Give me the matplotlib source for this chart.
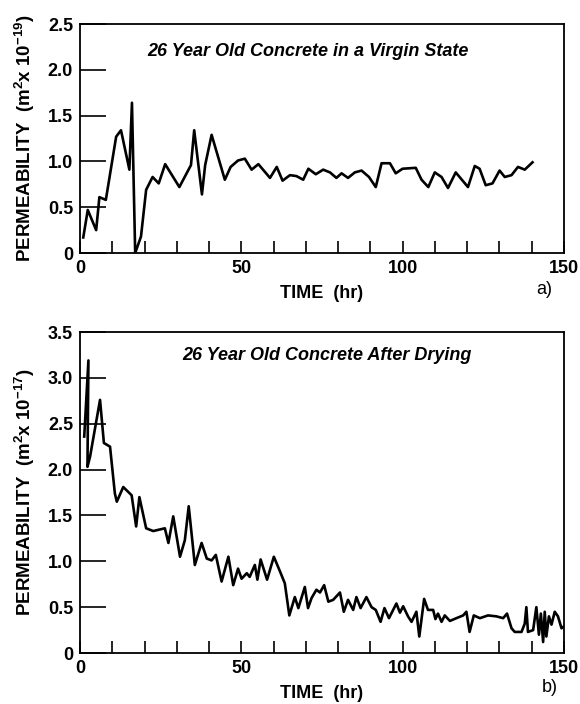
import matplotlib.pyplot as plt
from matplotlib.ticker import FixedLocator, FixedFormatter, MultipleLocator

plt.rcParams['font.family'] = ['Liberation Sans', 'DejaVu Sans']
plt.rcParams['mathtext.fontset'] = 'custom'
plt.rcParams['mathtext.rm'] = 'Liberation Sans:bold'
plt.rcParams['mathtext.default'] = 'rm'

# ── (a) virgin state, permeability in 1e-19 m^2 ────────────────────
time_a = [1.0, 2.4, 5.0, 6.0, 8.0, 11.2, 12.7, 15.3, 16.1, 17.1, 18.9, 20.5,
          22.5, 24.4, 26.4, 30.8, 34.4, 35.4, 37.8, 38.8, 40.8, 44.9, 46.7,
          49.0, 51.1, 53.2, 55.3, 58.9, 61.0, 62.8, 65.1, 67.1, 69.2, 70.8,
          73.1, 75.4, 77.5, 79.5, 81.1, 83.1, 85.2, 87.3, 89.6, 91.7, 93.5,
          96.1, 97.9, 100.0, 104.1, 105.9, 108.0, 110.0, 112.1, 114.1, 116.5,
          120.3, 122.4, 123.9, 125.8, 127.9, 130.1, 131.7, 133.8, 135.8,
          137.9, 140.3]
perm_a = [0.17, 0.47, 0.25, 0.61, 0.58, 1.27, 1.34, 0.91, 1.64, 0.00, 0.18,
          0.69, 0.83, 0.76, 0.97, 0.72, 0.96, 1.34, 0.64, 0.96, 1.29, 0.80,
          0.94, 1.01, 1.03, 0.91, 0.97, 0.82, 0.94, 0.79, 0.85, 0.84, 0.80,
          0.92, 0.86, 0.91, 0.88, 0.82, 0.87, 0.82, 0.88, 0.90, 0.83, 0.72,
          0.98, 0.98, 0.87, 0.92, 0.93, 0.80, 0.72, 0.88, 0.83, 0.71, 0.88,
          0.72, 0.95, 0.92, 0.74, 0.76, 0.90, 0.83, 0.85, 0.94, 0.91, 0.99]

# ── (b) after drying, permeability in 1e-17 m^2 ────────────────────
time_b = [1.3, 2.6, 2.3, 3.1, 6.2, 7.4, 9.3, 10.8, 11.4, 13.4, 16.0, 17.4,
          18.4, 20.5, 22.7, 26.3, 27.4, 28.9, 31.0, 32.5, 33.7, 35.6, 37.7,
          39.3, 40.8, 42.1, 43.9, 46.0, 47.5, 49.0, 50.1, 51.7, 52.6, 54.2,
          55.0, 56.0, 58.0, 60.1, 62.0, 63.5, 64.9, 66.6, 67.7, 69.7, 70.7,
          71.8, 73.3, 74.4, 75.7, 77.0, 78.5, 80.6, 81.8, 83.1, 84.7, 85.7,
          87.0, 88.8, 90.4, 91.7, 93.2, 94.4, 95.8, 98.1, 99.2, 100.2, 101.7,
          102.8, 104.3, 105.2, 106.7, 107.9, 109.5, 110.2, 111.0, 112.1,
          113.1, 114.7, 116.7, 118.8, 119.8, 120.8, 122.1, 124.0, 126.5,
          129.1, 131.2, 132.4, 133.8, 134.8, 136.9, 137.9, 138.4, 138.9,
          140.5, 141.5, 142.3, 142.9, 143.6, 144.1, 144.6, 145.4, 146.2,
          147.2, 148.2, 149.3, 150.0]
perm_b = [2.36, 3.19, 2.03, 2.14, 2.76, 2.29, 2.25, 1.74, 1.65, 1.81, 1.72,
          1.38, 1.70, 1.36, 1.33, 1.36, 1.20, 1.49, 1.05, 1.23, 1.60, 0.96,
          1.20, 1.03, 1.01, 1.07, 0.78, 1.05, 0.74, 0.92, 0.81, 0.87, 0.83,
          0.96, 0.80, 1.02, 0.80, 1.05, 0.89, 0.76, 0.41, 0.61, 0.49, 0.72,
          0.49, 0.60, 0.69, 0.66, 0.74, 0.56, 0.58, 0.66, 0.45, 0.58, 0.47,
          0.61, 0.49, 0.61, 0.50, 0.47, 0.34, 0.49, 0.38, 0.54, 0.44, 0.51,
          0.40, 0.34, 0.45, 0.18, 0.59, 0.47, 0.47, 0.37, 0.43, 0.34, 0.41,
          0.35, 0.38, 0.41, 0.45, 0.23, 0.41, 0.38, 0.41, 0.40, 0.38, 0.43,
          0.27, 0.23, 0.23, 0.32, 0.50, 0.23, 0.25, 0.50, 0.20, 0.43, 0.12,
          0.45, 0.18, 0.40, 0.31, 0.45, 0.40, 0.27, 0.29]

yticks_a = [0, 0.5, 1.0, 1.5, 2.0, 2.5]
yticks_b = [0, 0.5, 1.0, 1.5, 2.0, 2.5, 3.0, 3.5]
xticks = [0, 50, 100, 150]


def style_axes(ax, yticks, ylabel, title, title_xy, tag, tag_xy):
    ax.set_xlim(0, 150)
    ax.set_ylim(yticks[0], yticks[-1])
    ax.xaxis.set_major_locator(FixedLocator(xticks))
    ax.xaxis.set_minor_locator(MultipleLocator(10))
    ax.yaxis.set_major_locator(FixedLocator(yticks))
    ax.yaxis.set_major_formatter(FixedFormatter(
        ["0" if v == 0 else f"{v:.1f}" for v in yticks]))
    ax.tick_params(axis='x', which='both', direction='in', length=9,
                   width=1.2, top=False, pad=5, labelsize=13)
    ax.tick_params(axis='y', direction='in', length=19, width=1.2,
                   right=False, pad=5, labelsize=13)
    for lab in ax.get_xticklabels() + ax.get_yticklabels():
        lab.set_fontweight('bold')
    for s in ax.spines.values():
        s.set_linewidth(1.3)
    ax.set_xlabel("TIME  (hr)", fontsize=13, fontweight='bold', labelpad=6)
    ax.set_ylabel(ylabel, fontsize=13.5, fontweight='bold', labelpad=8)
    ax.text(*title_xy, title, transform=ax.transAxes, fontsize=13,
            fontweight='bold', style='italic', ha='left', va='center')
    ax.text(*tag_xy, tag, transform=ax.transAxes, fontsize=13,
            ha='left', va='center')


fig = plt.figure(figsize=(5.8, 7.04), dpi=100)

ax1 = fig.add_axes([0.138, 0.6406, 0.834, 0.3253])
ax1.plot(time_a, perm_a, color='black', lw=1.9)
style_axes(ax1, yticks_a, r"PERMEABILITY  (m$^{2}$x 10$^{-19}$)",
           "26 Year Old Concrete in a Virgin State", (0.14, 0.878),
           "a)", (0.944, -0.16))

ax2 = fig.add_axes([0.138, 0.0724, 0.834, 0.456])
ax2.plot(time_b, perm_b, color='black', lw=1.9)
style_axes(ax2, yticks_b, r"PERMEABILITY  (m$^{2}$x 10$^{-17}$)",
           "26 Year Old Concrete After Drying", (0.211, 0.928),
           "b)", (0.955, -0.106))

fig.savefig("out.png", dpi=100)
